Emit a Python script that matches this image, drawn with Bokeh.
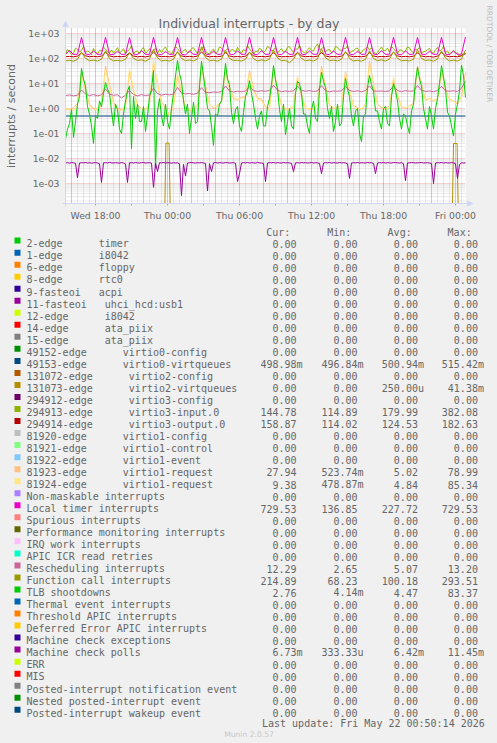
import re
import math
import pandas as pd
from bokeh.plotting import figure
from bokeh.models import Range1d, LogScale, Arrow, NormalHead
from bokeh.embed import file_html
from bokeh.resources import INLINE
from bokeh.core.properties import value

# ---------------- data ----------------
# 20-minute samples, Wed 15:30 -> Fri 00:50
sample_times = pd.date_range("2026-05-20 15:30", periods=101, freq="20min")
# 10-minute samples for the busier series
fine_times = pd.date_range("2026-05-20 15:30", periods=201, freq="10min")

local_timer = [
    145, 210, 144, 150, 690, 152,
    142, 200, 145, 150, 700, 148,
    143, 195, 145, 150, 680, 150,
    143, 205, 145, 148, 700, 150,
    142, 190, 145, 150, 690, 150,
    136.85, 200, 145, 150, 700, 150,
    142, 195, 145, 150, 690, 150,
    143, 200, 145, 150, 700, 150,
    142, 205, 145, 150, 690, 150,
    143, 195, 145, 150, 700, 150,
    142, 200, 145, 150, 680, 150,
    143, 200, 145, 150, 700, 150,
    142, 195, 145, 150, 690, 150,
    143, 205, 145, 150, 700, 150,
    142, 200, 145, 150, 690, 150,
    143, 195, 145, 150, 700, 150,
    142, 200, 145, 150, 729.53,
]

virtio3_output = [
    118, 121, 117, 125, 170, 128,
    118, 122, 117, 126, 175, 127,
    117, 120, 118, 124, 168, 126,
    117, 121, 116, 125, 178, 128,
    118, 120, 117, 124, 172, 127,
    118, 122, 117, 125, 182.63, 128,
    117, 121, 118, 124, 170, 126,
    117, 120, 116, 125, 174, 128,
    118, 121, 117, 124, 169, 126,
    117, 120, 118, 125, 176, 127,
    118, 121, 117, 124, 171, 126,
    117, 120, 116, 125, 173, 128,
    118, 121, 117, 124, 170, 126,
    117, 120, 118, 125, 175, 127,
    118, 121, 117, 124, 168, 126,
    117, 120, 114.02, 125, 172, 128,
    118, 121, 117, 130, 158.87,
]

virtio3_input = [  # 10-minute samples
    150, 230, 190, 140, 160, 260, 230, 180, 210, 300, 170, 200,
    180, 140, 250, 190, 150, 210, 200, 280, 240, 180, 165, 220,
    160, 210, 270, 170, 190, 250, 155, 200, 230, 320, 150, 190,
    200, 150, 230, 280, 160, 190, 250, 170, 210, 260, 155, 230,
    170, 240, 290, 190, 180, 150, 220, 300, 250, 190, 160, 210,
    230, 170, 180, 250, 270, 200, 160, 230, 220, 310, 200, 160,
    155, 200, 240, 160, 180, 290, 260, 190, 210, 250, 170, 230,
    220, 180, 280, 200, 160, 230, 200, 330, 240, 190, 150, 200,
    180, 260, 230, 170, 210, 300, 270, 200, 220, 280, 160, 210,
    250, 180, 190, 280, 300, 220, 170, 250, 230, 340, 210, 180,
    160, 220, 270, 210, 200, 300, 382.08, 230, 240, 290, 180, 220,
    230, 170, 190, 300, 280, 220, 210, 260, 250, 320, 160, 200,
    200, 250, 260, 180, 170, 230, 240, 290, 220, 270, 190, 150,
    170, 230, 290, 200, 210, 260, 180, 300, 250, 200, 160, 220,
    220, 180, 200, 290, 270, 190, 170, 240, 230, 280, 155, 190,
    190, 230, 250, 180, 160, 220, 280, 200, 220, 310, 170, 200,
    145, 180, 210, 160, 170, 114.89, 135, 160, 144.78,
]

function_call = [
    80, 85, 78, 92, 180, 100,
    82, 86, 79, 95, 200, 98,
    81, 84, 80, 93, 170, 102,
    83, 88, 78, 96, 230, 105,
    80, 85, 79, 94, 190, 100,
    82, 87, 80, 97, 293.51, 110,
    81, 86, 78, 95, 210, 100,
    83, 85, 79, 93, 180, 98,
    80, 88, 80, 96, 220, 104,
    82, 84, 68.23, 94, 175, 100,
    81, 87, 79, 97, 240, 106,
    83, 86, 80, 95, 190, 100,
    80, 85, 78, 93, 205, 99,
    82, 88, 79, 96, 185, 102,
    81, 84, 80, 94, 225, 100,
    83, 87, 78, 95, 200, 103,
    80, 86, 79, 96, 214.89,
]

rescheduling = [
    3.3, 3.5, 3.2, 3.4, 5.5, 3.8,
    3.3, 3.6, 3.2, 3.5, 6.0, 3.7,
    3.4, 3.5, 2.65, 3.4, 5.2, 3.6,
    3.2, 3.6, 3.3, 3.5, 6.5, 3.9,
    3.4, 3.7, 3.5, 3.8, 7.0, 4.2,
    3.8, 4.0, 3.7, 4.1, 6.8, 4.4,
    4.3, 4.6, 4.4, 4.8, 8.0, 5.0,
    4.6, 4.9, 4.7, 5.0, 7.5, 5.2,
    4.8, 5.1, 4.9, 5.2, 8.5, 5.4,
    4.7, 5.0, 4.8, 5.1, 7.8, 5.3,
    4.9, 5.2, 4.8, 5.0, 8.2, 5.2,
    4.7, 5.0, 4.9, 5.1, 7.6, 5.3,
    4.8, 5.1, 4.7, 5.2, 8.0, 5.1,
    4.9, 5.0, 4.8, 5.1, 7.9, 5.2,
    4.7, 5.2, 4.9, 5.0, 8.3, 5.4,
    4.8, 5.0, 4.7, 5.2, 7.7, 5.1,
    4.9, 5.1, 4.8, 6.5, 12.29,
]

tlb_shootdowns = [  # 10-minute samples
    0.06, 0.15, 0.25, 0.9, 0.07, 0.3, 1.5, 3, 40, 15, 8, 1.2,
    0.6, 0.2, 0.04, 0.5, 0.4, 2, 1.2, 4, 11, 6, 4, 0.8,
    0.2, 1.5, 0.9, 0.15, 0.1, 0.6, 2, 5, 8, 0.025, 3, 0.4,
    1.5, 0.3, 0.3, 1.2, 0.12, 0.5, 3, 6, 33, 0.00414, 0.8, 2.5,
    0.5, 0.2, 1.5, 0.3, 0.15, 1, 4, 20, 83.37, 25, 12, 2,
    0.6, 1.5, 0.1, 0.4, 1.8, 0.25, 0.3, 8, 76, 20, 5, 1,
    0.8, 0.2, 0.033, 0.6, 0.5, 1.5, 2, 10, 63, 15, 9, 0.7,
    0.25, 0.9, 1.2, 0.2, 0.12, 0.7, 3, 5, 13, 4, 1.5, 0.4,
    0.15, 0.5, 0.8, 0.2, 0.2, 1.2, 2.5, 9, 52, 14, 6, 0.9,
    0.3, 1.5, 0.09, 0.3, 1, 0.2, 0.15, 4, 12, 10, 4, 0.6,
    0.6, 0.2, 0.1, 0.9, 2, 0.4, 0.3, 6, 28, 12, 7, 1,
    0.4, 1.2, 0.12, 0.3, 1.5, 0.2, 0.25, 3, 16, 6, 3, 0.5,
    0.2, 0.8, 1, 0.1, 0.048, 0.5, 0.6, 7, 21, 9, 5, 0.8,
    0.8, 0.3, 0.15, 1, 1.2, 0.25, 0.2, 3, 10, 5, 2, 0.4,
    0.15, 0.6, 0.5, 0.2, 0.1, 0.8, 1.5, 12, 44, 15, 8, 1,
    0.4, 0.15, 1.2, 0.5, 0.15, 1, 2.5, 10, 52, 18, 6, 0.7,
    0.5, 0.2, 0.08, 0.6, 1.5, 5, 55, 20, 2.76,
]

virtio1_request_a = [
    1.0, 0.9, 1.1, 1.6, 28, 6,
    1.5, 1.0, 0.9, 1.3, 50, 9,
    1.8, 1.0, 0.9, 1.2, 28, 5,
    1.4, 1.0, 0.9, 1.5, 63, 10,
    1.8, 1.1, 0.52, 1.3, 20, 4,
    1.2, 0.8, 0.9, 1.4, 50, 8,
    1.5, 1.0, 1.2, 1.8, 40, 7,
    2.5, 2.2, 2.8, 3.0, 33, 6,
    2.6, 2.4, 1.2, 1.0, 40, 7,
    1.3, 0.9, 1.0, 1.2, 15, 3,
    1.1, 0.9, 1.0, 1.4, 50, 8,
    1.4, 1.0, 1.1, 1.3, 30, 5,
    1.3, 1.1, 0.9, 1.5, 78.99, 10,
    1.5, 1.1, 1.0, 1.3, 13, 3,
    1.2, 1.0, 1.3, 1.6, 50, 9,
    2.2, 2.5, 1.9, 2.6, 35, 6,
    2.3, 2.0, 1.5, 3.0, 27.94,
]

virtio1_request_b = [
    0.9, 1.0, 0.8, 1.4, 20, 5,
    1.3, 0.9, 1.0, 1.5, 35, 7,
    1.5, 0.9, 0.8, 1.3, 40, 6,
    1.2, 1.0, 0.9, 1.6, 85.34, 9,
    1.5, 1.0, 0.48, 1.2, 25, 5,
    1.1, 0.9, 1.0, 1.5, 40, 7,
    1.4, 1.1, 1.3, 2.0, 30, 6,
    2.8, 2.3, 2.5, 2.8, 25, 5,
    2.4, 2.0, 1.1, 0.9, 35, 6,
    1.2, 1.0, 0.9, 1.3, 20, 4,
    1.0, 1.0, 0.9, 1.5, 40, 7,
    1.3, 1.1, 1.0, 1.4, 25, 5,
    1.2, 1.0, 1.0, 1.4, 55, 9,
    1.4, 1.0, 0.9, 1.2, 18, 4,
    1.1, 1.1, 1.2, 1.5, 45, 8,
    2.0, 2.6, 2.1, 2.4, 30, 5,
    2.5, 1.9, 1.6, 2.8, 9.38,
]

machine_check_polls = [  # 10-minute samples
    .0066, .0068, .0065, .0069, .0067, .0064, .0017, .0066, .0068, .0067, .0069, .0066,
    .0068, .0065, .0067, .0069, .0066, .0062, .0011, .0067, .0068, .0066, .0070, .0067,
    .0066, .0068, .0067, .0065, .0069, .0066, .0060, .0011, .0067, .0068, .0066, .0069,
    .0067, .0066, .0068, .0069, .0066, .0067, .0068, .0065, .0007, .0066, .0030, .0068,
    .0067, .0069, .0066, .0068, .0067, .0065, .0068, .0066, .0067, .0061, .00033, .0058,
    .0020, .0066, .0068, .0069, .0067, .0066, .0068, .0067, .0069, .0066, .0063, .0005,
    .0062, .0030, .0067, .0069, .0066, .0068, .0067, .0066, .0069, .0068, .0066, .0067,
    .0068, .0064, .0012, .0025, .0066, .0068, .0067, .0069, .0066, .0068, .0067, .0066,
    .0069, .0067, .0066, .0063, .0012, .0066, .0068, .0067, .0069, .0066, .0068, .0067,
    .0066, .0069, .0067, .0068, .0066, .0064, .0030, .0067, .0068, .0066, .0069, .0067,
    .0068, .0066, .0067, .0069, .0066, .0068, .0067, .0063, .0025, .0066, .0068, .0067,
    .0069, .0066, .0068, .0067, .0066, .0069, .0067, .0068, .0066, .0062, .0016, .0066,
    .0068, .0067, .0069, .0066, .0068, .0067, .0066, .0069, .0067, .0068, .0063, .0025,
    .0066, .0068, .0067, .0069, .0066, .0068, .0067, .0066, .0069, .0068, .0067, .0066,
    .0068, .0062, .0013, .0066, .0067, .0069, .0068, .0066, .0067, .0068, .0069, .0066,
    .0067, .0068, .0066, .0063, .0010, .0066, .0068, .0067, .0069, .0066, .0068, .0067,
    .0066, .0069, .0067, .0062, .0016, .0058, .0067, .0066, .00673,
]

virtio0_times = ["2026-05-20 15:30", "2026-05-20 20:00", "2026-05-21 02:00", "2026-05-21 08:00",
                 "2026-05-21 14:00", "2026-05-21 20:00", "2026-05-22 00:50"]
virtio0_virtqueues = [0.501, 0.500, 0.502, 0.499, 0.501, 0.500, 0.499]

virtio2_times = ["2026-05-20 15:30", "2026-05-20 23:47", "2026-05-20 23:52", "2026-05-21 00:08",
                 "2026-05-21 00:13", "2026-05-21 23:45", "2026-05-21 23:50", "2026-05-22 00:08",
                 "2026-05-22 00:13", "2026-05-22 00:50"]
virtio2_virtqueues = [0, 0, 0.0414, 0.0414, 0, 0, 0.040, 0.040, 0, 0]

for arr in (local_timer, virtio3_output, function_call, rescheduling,
            virtio1_request_a, virtio1_request_b):
    assert len(arr) == len(sample_times), len(arr)
for arr in (virtio3_input, tlb_shootdowns, machine_check_polls):
    assert len(arr) == len(fine_times), len(arr)

x_start, x_end = "2026-05-20 15:30", "2026-05-22 00:50"
x_tick_times = ["2026-05-20 18:00", "2026-05-21 00:00", "2026-05-21 06:00",
                "2026-05-21 12:00", "2026-05-21 18:00", "2026-05-22 00:00"]
x_tick_labels = ["Wed 18:00", "Thu 00:00", "Thu 06:00", "Thu 12:00", "Thu 18:00", "Fri 00:00"]
y_tick_values = [1e-3, 1e-2, 1e-1, 1e0, 1e1, 1e2, 1e3]
y_tick_labels = ["1e-03", "1e-02", "1e-01", "1e+00", "1e+01", "1e+02", "1e+03"]
y_min, y_max = 10 ** -3.8, 10 ** 3.2

# legend
legend_labels = [
    "2-edge      timer", "1-edge      i8042", "6-edge      floppy", "8-edge      rtc0",
    "9-fasteoi   acpi", "11-fasteoi   uhci_hcd:usb1", "12-edge      i8042",
    "14-edge      ata_piix", "15-edge      ata_piix", "49152-edge      virtio0-config",
    "49153-edge      virtio0-virtqueues", "131072-edge      virtio2-config",
    "131073-edge      virtio2-virtqueues", "294912-edge      virtio3-config",
    "294913-edge      virtio3-input.0", "294914-edge      virtio3-output.0",
    "81920-edge      virtio1-config", "81921-edge      virtio1-control",
    "81922-edge      virtio1-event", "81923-edge      virtio1-request",
    "81924-edge      virtio1-request", "Non-maskable interrupts", "Local timer interrupts",
    "Spurious interrupts", "Performance monitoring interrupts", "IRQ work interrupts",
    "APIC ICR read retries", "Rescheduling interrupts", "Function call interrupts",
    "TLB shootdowns", "Thermal event interrupts", "Threshold APIC interrupts",
    "Deferred Error APIC interrupts", "Machine check exceptions", "Machine check polls",
    "ERR", "MIS", "Posted-interrupt notification event", "Nested posted-interrupt event",
    "Posted-interrupt wakeup event",
]
legend_colors = [
    "#00CC00", "#0066B3", "#FF8000", "#FFCC00", "#330099", "#990099", "#CCFF00", "#FF0000",
    "#808080", "#008F00", "#00487D", "#B35A00", "#B38F00", "#6B006B", "#8FB300", "#B30000",
    "#BEBEBE", "#80FF80", "#80C9FF", "#FFC080", "#FFE680", "#AA80FF", "#EE00CC", "#FF8080",
    "#666600", "#FFBFFF", "#00FFCC", "#CC6699", "#999900", "#00CC00", "#0066B3", "#FF8000",
    "#FFCC00", "#330099", "#990099", "#CCFF00", "#FF0000", "#808080", "#008F00", "#00487D",
]
legend_cur = [
    "0.00", "0.00", "0.00", "0.00", "0.00", "0.00", "0.00", "0.00", "0.00", "0.00",
    "498.98m", "0.00", "0.00", "0.00", "144.78", "158.87", "0.00", "0.00", "0.00", "27.94",
    "9.38", "0.00", "729.53", "0.00", "0.00", "0.00", "0.00", "12.29", "214.89", "2.76",
    "0.00", "0.00", "0.00", "0.00", "6.73m", "0.00", "0.00", "0.00", "0.00", "0.00",
]
legend_min = [
    "0.00", "0.00", "0.00", "0.00", "0.00", "0.00", "0.00", "0.00", "0.00", "0.00",
    "496.84m", "0.00", "0.00", "0.00", "114.89", "114.02", "0.00", "0.00", "0.00", "523.74m",
    "478.87m", "0.00", "136.85", "0.00", "0.00", "0.00", "0.00", "2.65", "68.23", "4.14m",
    "0.00", "0.00", "0.00", "0.00", "333.33u", "0.00", "0.00", "0.00", "0.00", "0.00",
]
legend_avg = [
    "0.00", "0.00", "0.00", "0.00", "0.00", "0.00", "0.00", "0.00", "0.00", "0.00",
    "500.94m", "0.00", "250.00u", "0.00", "179.99", "124.53", "0.00", "0.00", "0.00", "5.02",
    "4.84", "0.00", "227.72", "0.00", "0.00", "0.00", "0.00", "5.07", "100.18", "4.47",
    "0.00", "0.00", "0.00", "0.00", "6.42m", "0.00", "0.00", "0.00", "0.00", "0.00",
]
legend_max = [
    "0.00", "0.00", "0.00", "0.00", "0.00", "0.00", "0.00", "0.00", "0.00", "0.00",
    "515.42m", "0.00", "41.38m", "0.00", "382.08", "182.63", "0.00", "0.00", "0.00", "78.99",
    "85.34", "0.00", "729.53", "0.00", "0.00", "0.00", "0.00", "13.20", "293.51", "83.37",
    "0.00", "0.00", "0.00", "0.00", "11.45m", "0.00", "0.00", "0.00", "0.00", "0.00",
]
legend_headers = ["Cur:", "Min:", "Avg:", "Max:"]
title_text = "Individual interrupts - by day"
y_label_text = "interrupts / second"
side_text = "RRDTOOL / TOBI OETIKER"
last_update = "Last update: Fri May 22 00:50:14 2026"
footer_text = "Munin 2.0.57"

# ---------------- layout / style ----------------
BG = "#F0F0F0"
FONT_COLOR = "#666666"
AXIS_COLOR = "#CFD6F8"
SANS = "DejaVu Sans"
MONO = "DejaVu Sans Mono"
W, H = 497, 743
FL, FR, FT, FB = 65, 465, 28, 203        # plot area edges in page pixels
PX_PER_HOUR = (FR - FL) / ((pd.Timestamp(x_end) - pd.Timestamp(x_start)).total_seconds() / 3600)
PX_PER_DECADE = (FB - FT) / (math.log10(y_max) - math.log10(y_min))

# time / rate ranges that put the plot area exactly on FL..FR / FT..FB of the page
view_t0 = pd.Timestamp(x_start) - pd.Timedelta(hours=FL / PX_PER_HOUR)
view_t1 = pd.Timestamp(x_end) + pd.Timedelta(hours=(W - FR) / PX_PER_HOUR)
view_v0 = 10 ** (math.log10(y_min) - (H - FB) / PX_PER_DECADE)
view_v1 = 10 ** (math.log10(y_max) + FT / PX_PER_DECADE)

p = figure(width=W, height=H, x_range=Range1d(0, W), y_range=Range1d(H, 0),
           extra_x_ranges={"time": Range1d(view_t0, view_t1)},
           extra_y_ranges={"rate": Range1d(view_v0, view_v1)},
           extra_y_scales={"rate": LogScale()},
           x_axis_location=None, y_axis_location=None, title=None,
           min_border=0, output_backend="svg", toolbar_location=None,
           background_fill_color=BG, border_fill_color=BG)
p.outline_line_color = None
p.grid.visible = False

TR = dict(x_range_name="time", y_range_name="rate")

# plot canvas
p.quad(left=[pd.Timestamp(x_start)], right=[pd.Timestamp(x_end)], bottom=[y_min], top=[y_max],
       fill_color="#FFFFFF", line_color=None, **TR)

# grid
half_hour = pd.date_range("2026-05-20 15:30", "2026-05-22 00:30", freq="30min")
two_hour = pd.date_range("2026-05-20 16:00", "2026-05-22 00:00", freq="2h")
minor_vals = [m * 10 ** k for k in range(-4, 4) for m in range(2, 10)
              if y_min <= m * 10 ** k <= y_max]
GRID_MINOR = dict(line_color="#8F8F8F", line_alpha=0.38, line_dash="1 1", line_width=1)
GRID_MAJOR = dict(line_color="#DE5050", line_alpha=0.5, line_dash="1 1", line_width=1)
p.segment(x0=list(half_hour), y0=y_min, x1=list(half_hour), y1=y_max, **GRID_MINOR, **TR)
p.segment(x0=pd.Timestamp(x_start), y0=minor_vals, x1=pd.Timestamp(x_end), y1=minor_vals,
          **GRID_MINOR, **TR)
p.segment(x0=list(two_hour), y0=y_min, x1=list(two_hour), y1=y_max, **GRID_MAJOR, **TR)
p.segment(x0=pd.Timestamp(x_start), y0=y_tick_values, x1=pd.Timestamp(x_end),
          y1=y_tick_values, **GRID_MAJOR, **TR)

# series (legend order)
p.line(pd.to_datetime(virtio0_times), virtio0_virtqueues, line_color="#00487D", line_width=1, **TR)
p.line(pd.to_datetime(virtio2_times), [max(v, y_min) for v in virtio2_virtqueues],
       line_color="#B38F00", line_width=1, **TR)
p.line(fine_times, virtio3_input, line_color="#8FB300", line_width=1, **TR)
p.line(sample_times, virtio3_output, line_color="#B30000", line_width=1, **TR)
p.line(sample_times, virtio1_request_a, line_color="#FFC080", line_width=1, **TR)
p.line(sample_times, virtio1_request_b, line_color="#FFE680", line_width=1, **TR)
p.line(sample_times, local_timer, line_color="#EE00CC", line_width=1, **TR)
p.line(sample_times, rescheduling, line_color="#CC6699", line_width=1, **TR)
p.line(sample_times, function_call, line_color="#999900", line_width=1, **TR)
p.line(fine_times, tlb_shootdowns, line_color="#00CC00", line_width=1, **TR)
p.line(fine_times, machine_check_polls, line_color="#990099", line_width=1, **TR)

# axes with arrows
head = dict(size=5, fill_color=AXIS_COLOR, line_color=AXIS_COLOR)
p.add_layout(Arrow(x_start=FL - 3, y_start=FB, x_end=FR + 7, y_end=FB, line_color=AXIS_COLOR,
                   line_width=1, end=NormalHead(**head)))
p.add_layout(Arrow(x_start=FL, y_start=FB + 3, x_end=FL, y_end=FT - 7, line_color=AXIS_COLOR,
                   line_width=1, end=NormalHead(**head)))
three_hour = pd.date_range("2026-05-20 18:00", "2026-05-22 00:00", freq="3h")
p.segment(x0=list(three_hour), y0=FB, x1=list(three_hour), y1=FB + 2, line_color="#A8A8A8",
          line_width=1, x_range_name="time")


def txt(x, y, text, font, size, color, align, baseline, angle=0.0, xr="default", yr="default"):
    p.text(x=x, y=y, text=text, x_range_name=xr, y_range_name=yr, angle=angle,
           text_font=value(font), text_font_size=size, text_color=color,
           text_align=align, text_baseline=baseline)


# tick labels
txt([pd.Timestamp(t) for t in x_tick_times], [FB + 12] * len(x_tick_times), x_tick_labels,
    SANS, "9.3px", FONT_COLOR, "center", "alphabetic", xr="time")
txt([FL - 6] * len(y_tick_values), y_tick_values, y_tick_labels, SANS, "9.3px", FONT_COLOR,
    "right", "middle", yr="rate")

# title, axis label, side watermark
txt([248.5], [22.5], [title_text], SANS, "12.5px", FONT_COLOR, "center", "alphabetic")
txt([11.2], [(FT + FB) / 2], [y_label_text], SANS, "11px", FONT_COLOR, "center", "middle",
    angle=math.pi / 2)
txt([488.5], [5], [side_text], SANS, "7.5px", "#BBBBBB", "left", "middle", angle=-math.pi / 2)

# legend
CHAR_W = 6.0205
row_base, row_step = 243.4, 12.03
rows = [row_base + row_step * i for i in range(len(legend_labels))]
p.rect(x=17, y=[r - 3.3 for r in rows], width=6, height=6, fill_color=legend_colors,
       line_color=None)

name_x = 26.0
t_text, t_x, t_y = [], [], []
for lab, r in zip(legend_labels, rows):
    m = re.match(r"^(\S+)(\s{2,})(.*)$", lab)
    if m:
        t_text += [m.group(1), m.group(3)]
        t_x += [name_x, name_x + (len(m.group(1)) + len(m.group(2))) * CHAR_W]
        t_y += [r, r]
    else:
        t_text.append(lab)
        t_x.append(name_x)
        t_y.append(r)
txt(t_x, t_y, t_text, MONO, "10px", FONT_COLOR, "left", "alphabetic")

col_starts = [260.0, 321.0, 381.3, 441.3]
v_text, v_x, v_y = [], [], []
for cs, vals in zip(col_starts, [legend_cur, legend_min, legend_avg, legend_max]):
    for v, r in zip(vals, rows):
        v_text.append(v)
        v_x.append(cs + 6 * CHAR_W + (CHAR_W if v[-1].isalpha() else 0))
        v_y.append(r)
txt(v_x, v_y, v_text, MONO, "10px", FONT_COLOR, "right", "alphabetic")

txt([cs + 5.8 for cs in col_starts], [231.7] * 4, legend_headers, MONO, "10px", FONT_COLOR,
    "left", "alphabetic")
txt([261.5], [723.0], [last_update], MONO, "10px", FONT_COLOR, "left", "alphabetic")
txt([248.5], [734.0], [footer_text], SANS, "7.6px", "#C8C8C8", "center", "alphabetic")

html = file_html(p, INLINE, title=title_text)
html = html.replace("</head>", "<style>html,body{margin:0;padding:0;background:#f0f0f0;"
                    "overflow:hidden;}</style></head>", 1)
open("out.html", "w").write(html)
